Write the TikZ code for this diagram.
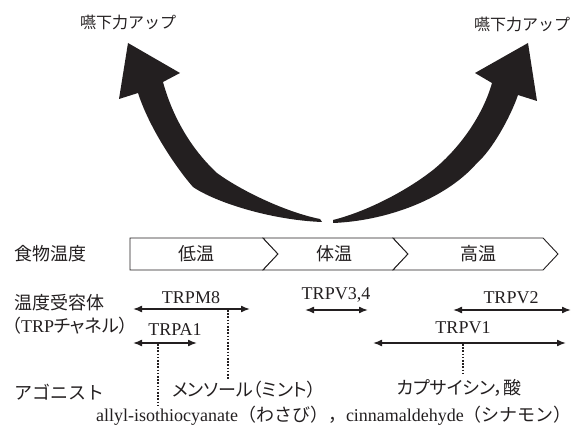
\documentclass[tikz,border=0pt]{standalone}
\usepackage{fontspec}
\setmainfont{Liberation Serif}
\newfontfamily\jp{Noto Sans CJK JP}
\newfontfamily\jpp[RawFeature=+palt]{Noto Sans CJK JP}
\usetikzlibrary{arrows.meta}
\definecolor{ink}{RGB}{35,31,32}
\tikzset{
  lbl/.style={inner sep=0pt, text=ink, font=\fontsize{18}{20}\selectfont},
  jlbl/.style={inner sep=0pt, text=ink, font=\fontsize{18}{20}\selectfont\jp},
  plbl/.style={inner sep=0pt, text=ink, font=\fontsize{18}{20}\selectfont\jpp},
  toplbl/.style={inner sep=0pt, text=ink, font=\fontsize{16}{18}\selectfont\jp},
  dbl/.style={draw=ink, line width=1.6pt, {Latex[length=9pt,width=7pt]}-{Latex[length=9pt,width=7pt]}},
  dots/.style={draw=ink, line width=1.6pt, dash pattern=on 1.6pt off 1.6pt},
  chev/.style={draw=ink, line width=0.9pt, fill=white},
  bigarrow/.style={fill=ink, draw=none}
}
\begin{document}
\begin{tikzpicture}[x=1pt,y=-1pt]
\useasboundingbox (0,0) rectangle (581,427);
% top labels
\node[toplbl] (upL) at (128,22) {嚥下力アップ};
\node[toplbl] (upR) at (522,24) {嚥下力アップ};
% big curved arrows
\path[bigarrow] (322,222) .. controls (270,220) and (215,202) .. (193,187)
  .. controls (178,170) and (150,130) .. (138,93)
  -- (119,99) -- (128,43) -- (180,73) -- (163,82)
  .. controls (172,115) and (190,148) .. (217,173)
  .. controls (240,190) and (285,212) .. (320,219) -- cycle;
\path[bigarrow] (333,223) .. controls (385,221) and (445,200) .. (477,163)
  .. controls (492,150) and (510,118) .. (518,95)
  -- (537,101) -- (528,43) -- (475,73) -- (492,83)
  .. controls (483,115) and (460,148) .. (433,170)
  .. controls (405,192) and (365,212) .. (333,220) -- cycle;
% chevrons
\path[chev] (130,238) -- (263,238) -- (278,254) -- (263,270) -- (130,270) -- cycle;
\path[chev] (263,238) -- (393,238) -- (408,254) -- (393,270) -- (263,270) -- (278,254) -- cycle;
\path[chev] (393,238) -- (543,238) -- (558,254) -- (543,270) -- (393,270) -- (408,254) -- cycle;
\node[jlbl] (low) at (196,254) {低温};
\node[jlbl] (body) at (334,254) {体温};
\node[jlbl] (high) at (478,254) {高温};
% left labels
\node[jlbl, anchor=west] (food) at (14,254) {食物温度};
\node[jlbl, anchor=west] (recep) at (14,303) {温度受容体};
\node[lbl, anchor=west] (trpch) at (12,326) {{\jpp （}TRP{\jpp チャネル）}};
\node[jlbl, anchor=west] (agon) at (14,392) {アゴニスト};
% receptors
\node[lbl] (m8) at (191,298) {TRPM8};
\coordinate (m8a) at (133,309); \coordinate (m8b) at (250,309);
\draw[dbl] (m8a) -- (m8b);
\node[lbl] (a1) at (175,330) {TRPA1};
\coordinate (a1a) at (133,343); \coordinate (a1b) at (197,343);
\draw[dbl] (a1a) -- (a1b);
\node[lbl] (v34) at (336,295) {TRPV3,4};
\coordinate (v34a) at (305,310); \coordinate (v34b) at (368,310);
\draw[dbl] (v34a) -- (v34b);
\node[lbl] (v2) at (511,298) {TRPV2};
\coordinate (v2a) at (453,310); \coordinate (v2b) at (571,310);
\draw[dbl] (v2a) -- (v2b);
\node[lbl] (v1) at (463,328) {TRPV1};
\coordinate (v1a) at (373,343); \coordinate (v1b) at (566,343);
\draw[dbl] (v1a) -- (v1b);
% agonists
\node[plbl] (menthol) at (244,390) {メンソール（ミント）};
\node[plbl] (caps) at (459,388) {カプサイシン，酸};
\node[lbl] (allyl) at (334,416) {allyl-isothiocyanate{\jp （わさび），}cinnamaldehyde{\jp （シナモン）}};
% dotted links
\coordinate (m8d) at (228,310); \coordinate (m8e) at (228,380);
\draw[dots] (m8d) -- (m8e);
\coordinate (a1d) at (158,344); \coordinate (a1e) at (158,405);
\draw[dots] (a1d) -- (a1e);
\coordinate (v1d) at (463,344); \coordinate (v1e) at (463,374);
\draw[dots] (v1d) -- (v1e);
\end{tikzpicture}
\end{document}
